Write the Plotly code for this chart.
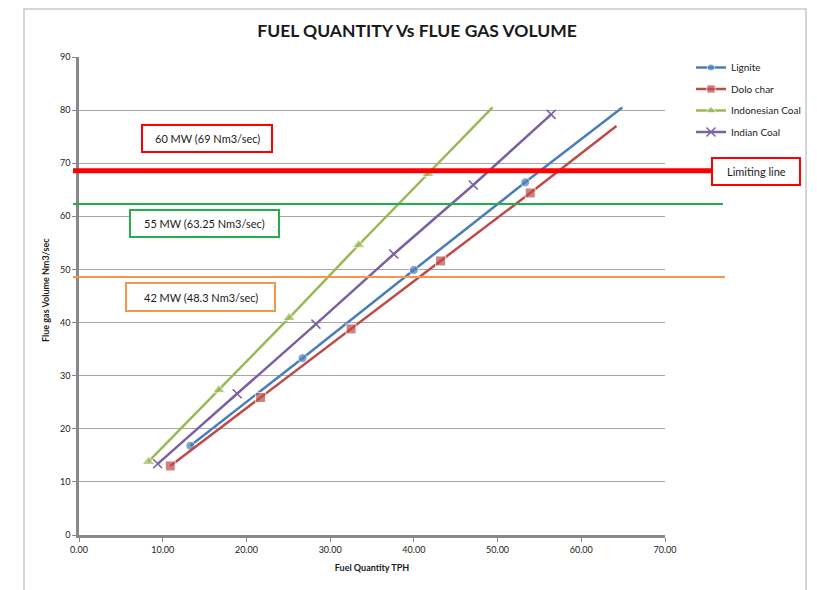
import plotly.graph_objects as go

# ---- data ----
lignite_x = [13.3, 26.7, 40.0, 53.3, 64.9]
lignite_y = [16.8, 33.3, 49.9, 66.4, 80.5]
dolo_x = [10.9, 21.7, 32.5, 43.2, 53.9, 64.2]
dolo_y = [13.0, 25.9, 38.8, 51.6, 64.4, 77.0]
indo_x = [8.3, 16.7, 25.1, 33.4, 41.7, 49.4]
indo_y = [13.8, 27.3, 40.9, 54.6, 68.0, 80.5]
indian_x = [9.4, 18.9, 28.3, 37.6, 47.1, 56.4]
indian_y = [13.4, 26.6, 39.7, 52.9, 65.9, 79.2]

limit_levels = [68.6, 62.3, 48.6]
limit_colors = ["#ff0000", "#22b04c", "#f7954a"]
limit_widths = [5, 2, 2]
box_labels = ["60 MW (69 Nm3/sec)", "55 MW (63.25 Nm3/sec)", "42 MW (48.3 Nm3/sec)"]

x_ticks = [0, 10, 20, 30, 40, 50, 60, 70]
y_ticks = [0, 10, 20, 30, 40, 50, 60, 70, 80, 90]

OFF = 8  # page body margin
W, H = 817 - OFF, 590 - OFF
L, R, T, B = 79, 665, 57, 535  # plot area in target page pixels


def px(x):
    return (x - L) / (R - L)


def py(y):
    return (B - y) / (B - T)


FONT = "Lato, Liberation Sans, Arial"
TXT = "#1a1a1a"

fig = go.Figure()

fig.add_trace(go.Scatter(x=lignite_x, y=lignite_y, name="Lignite", mode="lines+markers",
                         legendgroup="a",
                         line=dict(color="#4a7ebb", width=2.5),
                         marker=dict(symbol="circle", size=[9] * 4 + [0], color="#4a7ebb")))
fig.add_trace(go.Scatter(x=dolo_x, y=dolo_y, name="Dolo char", mode="lines+markers",
                         legendgroup="b",
                         line=dict(color="#be4b48", width=2.5),
                         marker=dict(symbol="square", size=[10] * 5 + [0], color="#be4b48")))
fig.add_trace(go.Scatter(x=indo_x, y=indo_y, name="Indonesian Coal", mode="lines+markers",
                         legendgroup="c",
                         line=dict(color="#98b954", width=2.5),
                         marker=dict(symbol="triangle-up", size=[11] * 5 + [0], color="#98b954")))
fig.add_trace(go.Scatter(x=indian_x, y=indian_y, name="Indian Coal", mode="lines+markers",
                         legendgroup="d",
                         line=dict(color="#7d60a0", width=2.5),
                         marker=dict(symbol="x-thin", size=9, color="#7d60a0",
                                     line=dict(width=1.5, color="#7d60a0"))))

shapes = []
# outer frame (bottom edge runs off the page)
shapes.append(dict(type="rect", xref="paper", yref="paper",
                   x0=px(24), x1=px(806), y0=py(600), y1=py(9),
                   line=dict(color="#c8c8c8", width=1.5), layer="below"))
# horizontal level lines
ends = [712, 723, 725]
for lvl, col, wd, e in zip(limit_levels, limit_colors, limit_widths, ends):
    shapes.append(dict(type="line", xref="paper", yref="y",
                       x0=px(73), x1=px(e), y0=lvl, y1=lvl,
                       line=dict(color=col, width=wd)))

annotations = []
boxes = [(142, 272, 125, 152), (130, 279, 210, 237), (126, 275, 283, 311)]
for (x0, x1, y0, y1), col, txt in zip(boxes, limit_colors, box_labels):
    shapes.append(dict(type="rect", xref="paper", yref="paper",
                       x0=px(x0), x1=px(x1), y0=py(y1), y1=py(y0),
                       line=dict(color=col, width=2), fillcolor="white"))
    annotations.append(dict(xref="paper", yref="paper", x=px((x0 + x1) / 2), y=py((y0 + y1) / 2),
                            text=txt, showarrow=False, xanchor="center", yanchor="middle",
                            font=dict(family=FONT, size=11, color=TXT)))
shapes.append(dict(type="rect", xref="paper", yref="paper",
                   x0=px(712), x1=px(800), y0=py(185), y1=py(158),
                   line=dict(color="#ff0000", width=2), fillcolor="white"))
annotations.append(dict(xref="paper", yref="paper", x=px(757), y=py(171.5),
                        text="Limiting line", showarrow=False, xanchor="center", yanchor="middle",
                        font=dict(family=FONT, size=11, color=TXT)))
annotations.append(dict(xref="paper", yref="paper", x=px(45), y=py(290),
                        text="<b>Flue gas Volume Nm3/sec</b>", textangle=-90, showarrow=False,
                        xanchor="center", yanchor="middle",
                        font=dict(family=FONT, size=9, color=TXT)))

fig.update_layout(
    width=W, height=H,
    margin=dict(l=L - OFF, r=W - (R - OFF), t=T - OFF, b=H - (B - OFF), autoexpand=False),
    paper_bgcolor="white", plot_bgcolor="white",
    title=dict(text="<b>FUEL QUANTITY Vs FLUE GAS VOLUME</b>", xref="container",
               x=(417 - OFF) / W, xanchor="center",
               yref="container", y=1 - (31 - OFF) / H, yanchor="middle",
               font=dict(family=FONT, size=17.5, color=TXT)),
    legend=dict(x=px(691), y=py(53), xanchor="left", yanchor="top",
                font=dict(family=FONT, size=10, color=TXT),
                bgcolor="rgba(0,0,0,0)", tracegroupgap=2.5, itemwidth=30),
    showlegend=True,
    shapes=shapes,
    annotations=annotations,
    xaxis=dict(range=[0, 70], tickvals=x_ticks, ticktext=[f"{v:.2f}" for v in x_ticks],
               showgrid=False, zeroline=False, showline=True, linecolor="#888", linewidth=2.5,
               ticks="outside", ticklen=4, tickcolor="#888",
               tickfont=dict(family=FONT, size=9, color=TXT),
               title=dict(text="<b>Fuel Quantity TPH</b>", font=dict(family=FONT, size=9, color=TXT),
                          standoff=12)),
    yaxis=dict(range=[0, 90], tickvals=y_ticks, showgrid=True, gridcolor="#a6a6a6", gridwidth=1.2,
               zeroline=False, showline=True, linecolor="#888", linewidth=2.5,
               ticks="outside", ticklen=4, tickcolor="#888",
               tickfont=dict(family=FONT, size=9, color=TXT)),
)

fig.write_html("out.html")
